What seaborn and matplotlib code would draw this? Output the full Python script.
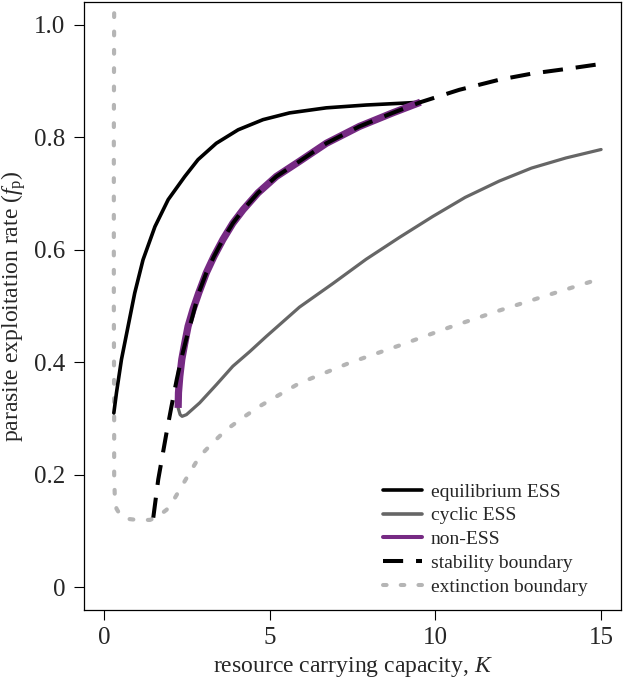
import numpy as np
import pandas as pd
import matplotlib
matplotlib.use("Agg")
import matplotlib.pyplot as plt
import seaborn as sns
from matplotlib.lines import Line2D

# ---- data ----
eq_K = [0.30, 0.38, 0.53, 0.73, 0.93, 1.18, 1.54, 1.94, 2.44, 2.84, 3.39, 4.05, 4.80, 5.60, 6.71, 7.91, 8.92, 9.55]
eq_f = [0.310, 0.346, 0.405, 0.464, 0.523, 0.582, 0.641, 0.689, 0.730, 0.760, 0.789, 0.813, 0.831, 0.843, 0.852, 0.857, 0.860, 0.862]

cyc_K = [2.24, 2.30, 2.36, 2.49, 2.89, 3.39, 3.89, 4.40, 4.90, 5.90, 6.91, 7.91, 8.92, 9.92, 10.90, 11.93, 12.90, 13.94, 15.00]
cyc_f = [0.319, 0.307, 0.304, 0.307, 0.328, 0.360, 0.393, 0.419, 0.446, 0.498, 0.540, 0.583, 0.622, 0.659, 0.693, 0.722, 0.745, 0.763, 0.778]

non_K = [2.24, 2.25, 2.29, 2.35, 2.44, 2.54, 2.69, 2.86, 3.09, 3.32, 3.59, 3.89, 4.20, 4.65, 5.20, 5.90, 6.71, 7.71, 8.71, 9.55]
non_f = [0.319, 0.346, 0.375, 0.405, 0.434, 0.464, 0.494, 0.523, 0.559, 0.588, 0.618, 0.647, 0.671, 0.701, 0.730, 0.757, 0.789, 0.819, 0.843, 0.862]

stab_K = [1.49, 1.64, 1.89, 2.04, 2.20, 2.35, 2.48, 2.62, 2.86, 3.09, 3.32, 3.59, 3.89, 4.20, 4.65, 5.20, 5.90, 6.71, 7.71, 8.71, 9.55,
          10.72, 11.93, 12.93, 13.94, 15.00]
stab_f = [0.124, 0.192, 0.275, 0.322, 0.370, 0.410, 0.440, 0.470, 0.523, 0.559, 0.588, 0.618, 0.647, 0.671, 0.701, 0.730, 0.757, 0.789, 0.819, 0.843, 0.862,
          0.884, 0.902, 0.913, 0.921, 0.930]

ext_K = [0.31, 0.30, 0.30, 0.31, 0.31, 0.33, 0.38, 0.50, 0.70, 1.00, 1.39, 1.60, 1.89, 2.10, 2.29, 2.60, 2.89, 3.30, 3.69, 4.20, 4.70,
         5.90, 7.41, 8.92, 10.42, 11.93, 13.43, 14.95]
ext_f = [1.02, 0.80, 0.50, 0.30, 0.20, 0.160, 0.140, 0.128, 0.122, 0.120, 0.120, 0.125, 0.138, 0.155, 0.174, 0.205, 0.233, 0.258, 0.280, 0.302, 0.322,
         0.363, 0.399, 0.430, 0.462, 0.492, 0.520, 0.548]

labels = ["equilibrium ESS", "cyclic ESS", "non-ESS", "stability boundary", "extinction boundary"]
x_ticks = [0, 5, 10, 15]
x_ticklabels = ["0", "5", "10", "15"]
y_ticks = [0, 0.2, 0.4, 0.6, 0.8, 1.0]
y_ticklabels = ["0", "0.2", "0.4", "0.6", "0.8", "1.0"]

# ---- style ----
sns.set_style("ticks")
plt.rcParams["font.family"] = ["Liberation Serif", "DejaVu Serif"]
plt.rcParams["mathtext.fontset"] = "custom"
plt.rcParams["mathtext.rm"] = "Liberation Serif"
plt.rcParams["mathtext.it"] = "Liberation Serif:italic"

C_EQ = "#000000"
C_CYC = "#666666"
C_NON = "#762a83"
C_EXT = "#b5b5b5"

fig = plt.figure(figsize=(6.24, 6.8), dpi=100)
ax = fig.add_axes([84 / 624, 1 - 610 / 680, (621 - 84) / 624, (610 - 2) / 680])

ext_style = dict(linestyle=(0, (0.9, 3.5)), dash_capstyle="round")
stab_style = dict(linestyle=(0, (5.0, 3.2)), dash_capstyle="butt")

sns.lineplot(x=ext_K, y=ext_f, ax=ax, sort=False, estimator=None, color=C_EXT, lw=3.0, **ext_style)
sns.lineplot(x=cyc_K, y=cyc_f, ax=ax, sort=False, estimator=None, color=C_CYC, lw=2.3)
sns.lineplot(x=eq_K, y=eq_f, ax=ax, sort=False, estimator=None, color=C_EQ, lw=2.6)
sns.lineplot(x=non_K, y=non_f, ax=ax, sort=False, estimator=None, color=C_NON, lw=5.2,
             solid_capstyle="butt")
sns.lineplot(x=stab_K, y=stab_f, ax=ax, sort=False, estimator=None, color=C_EQ, lw=2.9, **stab_style)

ax.set_xlim(-0.6, 15.6)
ax.set_ylim(-0.04, 1.04)
ax.set_xticks(x_ticks)
ax.set_xticklabels(x_ticklabels)
ax.set_yticks(y_ticks)
ax.set_yticklabels(y_ticklabels)
ax.tick_params(axis="both", direction="out", length=7.5, width=0.8, labelsize=18, color="black", pad=5)
ax.tick_params(axis="y", pad=6)
for s in ax.spines.values():
    s.set_visible(True)
    s.set_linewidth(0.9)
    s.set_color("black")

ax.set_xlabel("resource carrying capacity, $K$", fontsize=17, labelpad=4)
ax.set_ylabel(r"parasite exploitation rate ($f_{\mathrm{p}}$)", fontsize=17, labelpad=4)

handles = [
    Line2D([], [], color=C_EQ, lw=2.6),
    Line2D([], [], color=C_CYC, lw=2.6),
    Line2D([], [], color=C_NON, lw=2.9),
    Line2D([], [], color=C_EQ, lw=2.9, **stab_style),
    Line2D([], [], color=C_EXT, lw=2.9, **ext_style),
]
leg = ax.legend(handles, labels, loc="upper left", bbox_to_anchor=(383 / 624, 1 - 483 / 680),
                bbox_transform=fig.transFigure, frameon=False, fontsize=14, handlelength=2.0,
                handletextpad=0.45, labelspacing=0.32, borderpad=0, borderaxespad=0)

fig.savefig("out.png", dpi=100, facecolor="white")
